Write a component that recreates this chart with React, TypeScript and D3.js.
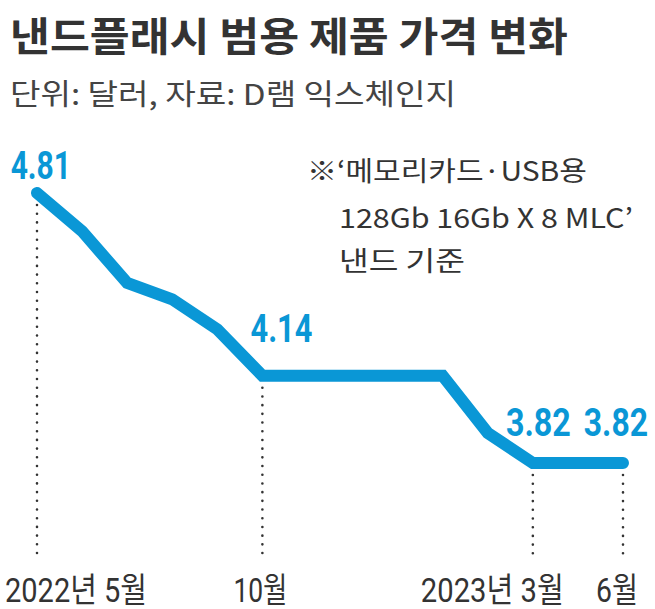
import React from "react";
import * as d3 from "d3";

const W = 655;
const H = 609;

// data: 14 points from 2022-05 to 2023-06
const pointIndex = [0, 1, 2, 3, 4, 5, 6, 7, 8, 9, 10, 11, 12, 13];
const prices = [4.81, 4.67, 4.48, 4.42, 4.31, 4.14, 4.14, 4.14, 4.14, 4.14, 3.93, 3.82, 3.82, 3.82];

const tickIdx = [0, 5, 11, 13];
const tickLabels = ["2022년 5월", "10월", "2023년 3월", "6월"];
const tickDx = [-32, -29, -112, -27];
const tickLen = [142, 54, 143, 42];

const labelIdx = [0, 5, 11, 13];
// offset of each label's right edge from its point
const labelDxEnd = [34, 50, 38, 25];
const labelDy = [-14, -34, -27, -27];
const labelScale = [0.79, 0.81, 0.85, 0.84];

const noteLines = ["※‘메모리카드·USB용", "128Gb 16Gb X 8 MLC’", "낸드 기준"];
const noteX = [307, 339, 339];
const noteY = [181, 228, 271];
const noteLen = [280, 294, 126];

const BLUE = "#0a97d6";
const FONT = "Roboto, 'Noto Sans CJK KR', sans-serif";
const KFONT = "'Noto Sans CJK KR', 'Noto Sans', sans-serif";

export default function App() {
  const x = d3.scaleLinear().domain([0, 13]).range([37, 623]);
  const y = d3.scaleLinear().domain([3.82, 4.81]).range([463, 193]);
  const line = d3
    .line<number>()
    .x((_, i) => x(pointIndex[i]))
    .y((d) => y(d));

  return (
    <svg
      width={W}
      height={H}
      style={{ position: "absolute", left: 0, top: 0, background: "#fff" }}
    >
      <rect width={W} height={H} fill="#fff" />
      <text
        x={10}
        y={51}
        fontFamily={KFONT}
        fontWeight={700}
        fontSize={40}
        fill="#333"
        textLength={558}
        lengthAdjust="spacingAndGlyphs"
      >
        낸드플래시 범용 제품 가격 변화
      </text>
      <text
        x={10}
        y={105}
        fontFamily={KFONT}
        fontWeight={400}
        fontSize={29}
        fill="#444"
        textLength={446}
        lengthAdjust="spacingAndGlyphs"
      >
        단위: 달러, 자료: D램 익스체인지
      </text>

      {noteLines.map((t, i) => (
        <text
          key={i}
          x={noteX[i]}
          y={noteY[i]}
          fontFamily={KFONT}
          fontSize={27}
          fill="#333"
          textLength={noteLen[i]}
          lengthAdjust="spacingAndGlyphs"
        >
          {t}
        </text>
      ))}

      {tickIdx.map((ti, i) => (
        <line
          key={"d" + i}
          x1={x(ti)}
          x2={x(ti)}
          y1={y(prices[ti]) + 12}
          y2={560}
          stroke="#333"
          strokeWidth={2.6}
          strokeLinecap="round"
          strokeDasharray="0 8.7"
        />
      ))}

      <path
        d={line(prices) || ""}
        fill="none"
        stroke={BLUE}
        strokeWidth={12}
        strokeLinecap="round"
        strokeLinejoin="miter"
      />

      {labelIdx.map((li, i) => (
        <g
          key={"l" + i}
          transform={`translate(${x(li) + labelDxEnd[i]},${y(prices[li]) + labelDy[i]}) scale(${labelScale[i]},1)`}
        >
          <text
            x={0}
            y={0}
            textAnchor="end"
            fontFamily={FONT}
            fontWeight={700}
            fontSize={38}
            fill={BLUE}
          >
            {prices[li].toFixed(2)}
          </text>
        </g>
      ))}

      {tickIdx.map((ti, i) => (
        <text
          key={"t" + i}
          x={x(ti) + tickDx[i]}
          y={602}
          fontFamily={FONT}
          fontSize={34}
          fill="#333"
          textLength={tickLen[i]}
          lengthAdjust="spacingAndGlyphs"
        >
          {tickLabels[i]}
        </text>
      ))}
    </svg>
  );
}
